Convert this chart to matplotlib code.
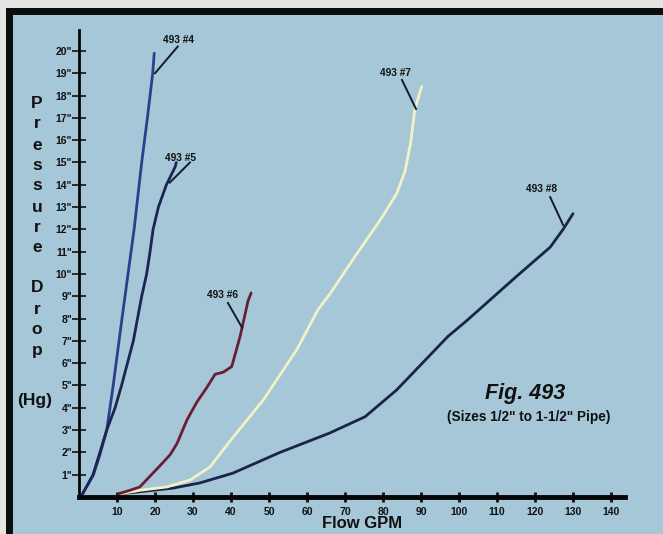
import matplotlib
matplotlib.use("Agg")
import matplotlib.pyplot as plt
from matplotlib.patches import Rectangle

plt.rcParams['font.family'] = ['Liberation Sans', 'DejaVu Sans']

# ---- data (Flow GPM vs Pressure Drop, inches Hg) ----
x4 = [0.8, 2.5, 3.8, 5.5, 7.3, 9.0, 11.0, 12.9, 14.5, 16.5, 18.0, 19.4, 19.8]
y4 = [0.1, 0.6, 1.0, 1.9, 3.0, 5.0, 7.6, 10.0, 12.0, 15.0, 17.0, 19.0, 19.9]

x5 = [0.8, 3.7, 5.5, 7.3, 9.5, 11.2, 14.3, 16.5, 17.8, 18.7, 19.5, 20.9, 23.0, 25.3, 25.6]
y5 = [0.1, 1.0, 2.0, 3.0, 4.0, 5.0, 7.0, 9.0, 10.0, 11.0, 12.0, 13.0, 14.0, 14.8, 15.0]

x6 = [10.5, 13.4, 16.0, 18.5, 21.3, 24.0, 25.8, 28.4, 31.0, 33.6, 35.8, 38.0, 40.2, 42.4, 44.5, 45.3]
y6 = [0.15, 0.3, 0.45, 0.9, 1.4, 1.9, 2.4, 3.45, 4.25, 4.9, 5.5, 5.6, 5.85, 7.2, 8.8, 9.15]

x7 = [11.0, 16.0, 23.1, 29.2, 34.5, 39.7, 48.5, 57.3, 62.9, 66.0, 73.1, 79.2, 83.6, 85.8, 87.3, 88.4, 90.2]
y7 = [0.15, 0.3, 0.45, 0.76, 1.35, 2.5, 4.35, 6.6, 8.4, 9.1, 10.9, 12.4, 13.6, 14.6, 15.9, 17.4, 18.4]

x8 = [11.0, 14.0, 24.8, 31.8, 40.5, 52.9, 66.0, 75.3, 83.6, 97.1, 102.0, 115.2, 124.0, 127.4, 130.0]
y8 = [0.15, 0.2, 0.4, 0.63, 1.07, 2.0, 2.87, 3.6, 4.8, 7.2, 7.9, 9.9, 11.2, 12.0, 12.7]

series_labels = ['493 #4', '493 #5', '493 #6', '493 #7', '493 #8']
x_ticks = [10, 20, 30, 40, 50, 60, 70, 80, 90, 100, 110, 120, 130, 140]
y_ticks = list(range(1, 21))
y_tick_labels = [f'{v}"' for v in y_ticks]

# ---- figure ----
W, H = 663, 534
fig = plt.figure(figsize=(W / 100, H / 100), dpi=100)
fig.patch.set_facecolor('#e4e4e2')

def px_rect(x0, y0, x1, y1, color, z):
    fig.patches.append(Rectangle((x0 / W, 1 - y1 / H), (x1 - x0) / W, (y1 - y0) / H,
                                 transform=fig.transFigure, facecolor=color,
                                 edgecolor='none', zorder=z))

px_rect(6, 8, W, H, '#0d0d0d', -10)
px_rect(13, 15, W, H, '#a5c7d7', -9)

ax = fig.add_axes([79 / W, 1 - 497 / H, (625 - 79) / W, (497 - 30) / H])
ax.set_zorder(1)
ax.patch.set_alpha(0)
ax.set_xlim(0, 143.7)
ax.set_ylim(0, 20.94)

for s in ['top', 'right']:
    ax.spines[s].set_visible(False)
ax.spines['left'].set_linewidth(2.0)
ax.spines['bottom'].set_linewidth(3.5)
ax.spines['left'].set_color('#050505')
ax.spines['bottom'].set_color('#050505')

lw = 2.0
ax.plot(x4, y4, color='#2c3f8e', lw=lw, solid_capstyle='round')
ax.plot(x5, y5, color='#1b2552', lw=lw, solid_capstyle='round')
ax.plot(x8, y8, color='#1a2447', lw=lw, solid_capstyle='round')
ax.plot(x7, y7, color='#f3f1c6', lw=lw, solid_capstyle='round')
ax.plot(x6, y6, color='#6a1e33', lw=lw, solid_capstyle='round')

ax.set_xticks(x_ticks)
ax.set_xticklabels([str(v) for v in x_ticks], fontsize=7.5, fontweight='bold')
ax.set_yticks(y_ticks)
ax.set_yticklabels(y_tick_labels, fontsize=7.5, fontweight='bold')
ax.tick_params(axis='y', direction='inout', length=10, width=1.2, pad=0, colors='#111111')
ax.tick_params(axis='x', direction='inout', length=7, width=2.0, pad=4, colors='#111111')

# series labels with pointer lines
label_pos = [(26.3, 20.5), (26.6, 15.2), (37.9, 9.05), (83.2, 19.0), (121.8, 13.8)]
pointers = [((26.0, 20.2), (20.0, 19.0)),
            ((29.2, 15.0), (23.9, 14.1)),
            ((39.2, 8.7), (42.9, 7.6)),
            ((85.0, 18.7), (88.7, 17.4)),
            ((124.0, 13.45), (127.4, 12.2))]
for lab, (tx, ty), (p0, p1) in zip(series_labels, label_pos, pointers):
    ax.text(tx, ty, lab, fontsize=7.3, fontweight='bold', ha='center', va='center', color='#111111')
    ax.plot([p0[0], p1[0]], [p0[1], p1[1]], color='#151a2a', lw=1.4)

ax.text(117.4, 4.66, 'Fig. 493', fontsize=15.5, fontweight='bold', fontstyle='italic',
        ha='center', va='center', color='#111111')
ax.text(118.4, 3.6, '(Sizes 1/2" to 1-1/2" Pipe)', fontsize=9.8, fontweight='bold',
        ha='center', va='center', color='#111111')

# axis labels
fig.text(362 / W, 1 - 524 / H, 'Flow GPM', fontsize=12, fontweight='bold',
         ha='center', va='center', color='#111111')
letters = list('Pressure') + list('Drop')
ys = [103, 124, 145, 165, 186, 207, 228, 248, 287, 309, 330, 351]
for ch, yp in zip(letters, ys):
    fig.text(37 / W, 1 - yp / H, ch, fontsize=12.5, fontweight='bold',
             ha='center', va='center', color='#111111')
fig.text(35 / W, 1 - 400 / H, '(Hg)', fontsize=12.5, fontweight='bold',
         ha='center', va='center', color='#111111')

fig.savefig('out.png', dpi=100, facecolor=fig.get_facecolor())
